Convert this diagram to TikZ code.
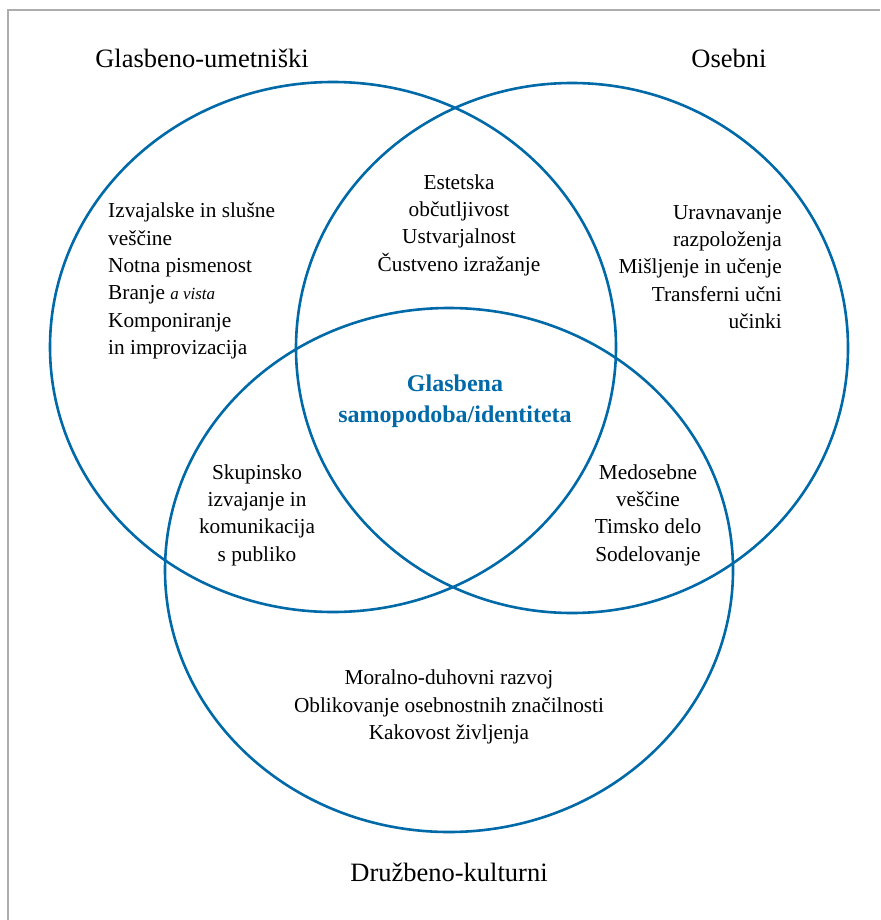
\documentclass[tikz,border=0pt]{standalone}
\usepackage{fontspec}
\setmainfont{Liberation Serif}
\definecolor{setblue}{RGB}{0,105,168}
\colorlet{framegray}{black!32}

\begin{document}
\begin{tikzpicture}[x=1pt, y=-1pt,
    setline/.style={draw=setblue, line width=2.6pt},
    heading/.style={inner sep=0pt, font=\fontsize{26.5}{30}\selectfont},
    items/.style={inner sep=0pt, font=\fontsize{21.3}{27.3}\selectfont},
    core/.style={inner sep=0pt, text=setblue, align=center, font=\bfseries\fontsize{24}{31}\selectfont}]
    \useasboundingbox (0,0) rectangle (880,920);

    % frame
    \draw[framegray, line width=1.3pt] (8,920) -- (8,10) -- (880,10);

    % the three sets
    \draw[setline] (333,347) ellipse [x radius=283, y radius=265];
    \draw[setline] (572,348) ellipse [x radius=276, y radius=265];
    \draw[setline] (449,570) ellipse [x radius=284, y radius=262];

    % set titles
    \node[heading] (glasb) at (202,58) {Glasbeno-umetniški};
    \node[heading] (oseb) at (729,58) {Osebni};
    \node[heading] (druz) at (449,872) {Družbeno-kulturni};

    % single sets
    \node[items, align=left, anchor=west] (left) at (108,281)
      {Izvajalske in slušne\\ veščine\\ Notna pismenost\\ Branje {\itshape\fontsize{17}{27.3}\selectfont a vista}\\ Komponiranje\\ in improvizacija};
    \node[items, align=right, anchor=east] (right) at (782,267)
      {Uravnavanje\\ razpoloženja\\ Mišljenje in učenje\\ Transferni učni\\ učinki};
    \node[items, align=center] (bottom) at (449,707)
      {Moralno-duhovni razvoj\\ Oblikovanje osebnostnih značilnosti\\ Kakovost življenja};

    % overlaps
    \node[items, align=center] (top) at (459,225)
      {Estetska\\ občutljivost\\ Ustvarjalnost\\ Čustveno izražanje};
    \node[items, align=center] (lowleft) at (257,515)
      {Skupinsko\\ izvajanje in\\ komunikacija\\ s publiko};
    \node[items, align=center] (lowright) at (648,515)
      {Medosebne\\ veščine\\ Timsko delo\\ Sodelovanje};
    \node[core] (centre) at (455,401) {Glasbena\\ samopodoba/identiteta};
\end{tikzpicture}
\end{document}
